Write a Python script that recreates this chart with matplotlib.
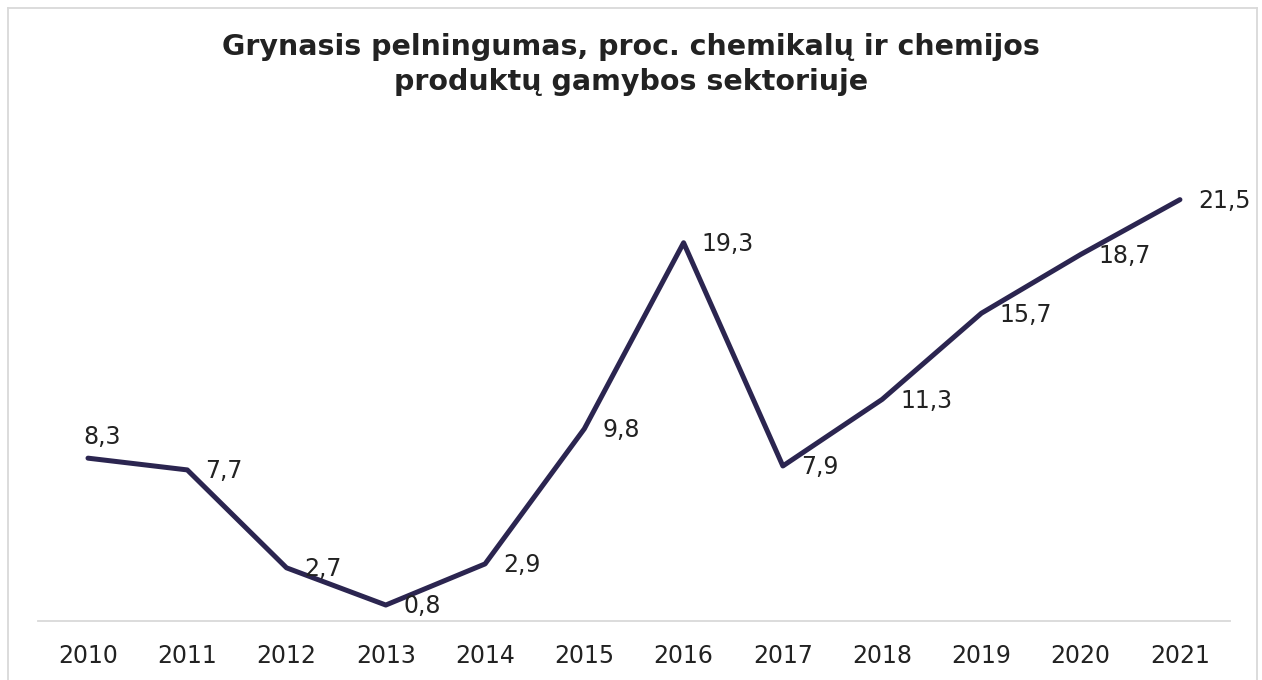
"""
Net profitability in the chemicals and chemical products manufacturing sector, 2010-2021.
Output: out.png
"""
import matplotlib
matplotlib.use("Agg")
import matplotlib.pyplot as plt
from matplotlib.lines import Line2D

YEARS = ["2010", "2011", "2012", "2013", "2014", "2015",
         "2016", "2017", "2018", "2019", "2020", "2021"]
VALUES = [8.3, 7.7, 2.7, 0.8, 2.9, 9.8, 19.3, 7.9, 11.3, 15.7, 18.7, 21.5]

TITLE = "Grynasis pelningumas, proc. chemikalų ir chemijos\nproduktų gamybos sektoriuje"
LINE_COLOR = "#2B2550"
TEXT_COLOR = "#222222"

plt.rcParams["font.family"] = ["DejaVu Sans"]

fig = plt.figure(figsize=(12.62, 6.8), dpi=100)
ax = fig.add_axes([0.0304, 0.0872, 0.9439, 0.720])

x = range(len(YEARS))
ax.plot(x, VALUES, color=LINE_COLOR, linewidth=3.6,
        solid_capstyle="round", solid_joinstyle="round")

# data labels: first one sits above the point, the rest to the right
for i, v in enumerate(VALUES):
    label = f"{v:.1f}".replace(".", ",")
    if i == 0:
        ax.annotate(label, (i, v), xytext=(-3, 15), textcoords="offset points",
                    ha="left", va="center", fontsize=17, color=TEXT_COLOR)
    else:
        ax.annotate(label, (i, v), xytext=(13, -1), textcoords="offset points",
                    ha="left", va="center", fontsize=17, color=TEXT_COLOR)

ax.set_xlim(-0.5, len(YEARS) - 0.5)
ax.set_ylim(0, 25)
ax.set_xticks(list(x))
ax.set_xticklabels(YEARS, fontsize=17, color=TEXT_COLOR)
ax.tick_params(axis="x", length=0, pad=17)
ax.set_yticks([])
for side in ["top", "right", "left"]:
    ax.spines[side].set_visible(False)
ax.spines["bottom"].set_color("#D9D9D9")
ax.spines["bottom"].set_linewidth(1.3)

fig.text(0.5, 0.905, TITLE, ha="center", va="center", fontsize=20.5,
         fontweight="bold", color=TEXT_COLOR, linespacing=1.3)

# outer chart frame
fx0, fx1, fy1 = 8 / 1262, 1257 / 1262, 1 - 8 / 680
for xs, ys in [([fx0, fx0], [0, fy1]), ([fx0, fx1], [fy1, fy1]), ([fx1, fx1], [fy1, 0])]:
    fig.add_artist(Line2D(xs, ys, color="#D9D9D9", linewidth=1.3,
                          transform=fig.transFigure))

fig.savefig("out.png", dpi=100)
